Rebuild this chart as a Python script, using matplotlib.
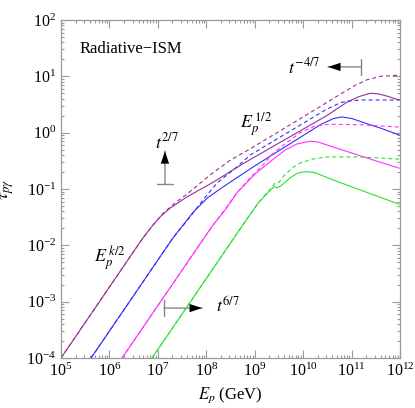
import numpy as np
import matplotlib
matplotlib.use("Agg")
import matplotlib.pyplot as plt

plt.rcParams['font.family'] = ['Liberation Serif', 'DejaVu Serif']
plt.rcParams['mathtext.fontset'] = 'stix'

# ---------------- DATA (log10 E_p [GeV], log10 tau) ----------------
# purple
loge_pur_d = [5.0, 6.69, 6.88, 7.11, 7.35, 7.60, 8.08, 8.49, 8.84, 10.0, 10.76, 11.07, 11.32, 11.59, 11.98]
logt_pur_d = [-4.0, -1.87, -1.66, -1.43, -1.25, -1.09, -0.75, -0.49, -0.32, 0.28, 0.68, 0.84, 0.94, 1.00, 1.02]
loge_pur_s = [5.0, 6.69, 6.88, 7.04, 7.25, 7.60, 8.14, 8.70, 8.90, 10.5, 10.9, 11.15, 11.38, 11.55, 11.75, 11.98]
logt_pur_s = [-4.0, -1.87, -1.66, -1.50, -1.34, -1.14, -0.88, -0.58, -0.48, 0.31, 0.54, 0.64, 0.70, 0.69, 0.645, 0.58]
# blue
loge_blu_d = [5.62, 7.31, 7.66, 7.93, 8.22, 8.63, 8.90, 10.45, 10.76, 10.9, 11.2, 11.98]
logt_blu_d = [-4.0, -1.87, -1.50, -1.195, -0.894, -0.61, -0.40, 0.40, 0.53, 0.56, 0.58, 0.58]
loge_blu_s = [5.62, 7.31, 7.73, 8.02, 8.35, 8.70, 9.0, 9.5, 10.0, 10.35, 10.62, 10.80, 11.01, 11.28, 11.6, 11.98]
logt_blu_s = [-4.0, -1.87, -1.41, -1.16, -0.96, -0.76, -0.59, -0.32, -0.05, 0.14, 0.25, 0.28, 0.25, 0.17, 0.08, -0.04]
# magenta
loge_mag_d = [6.26, 8.12, 8.39, 8.63, 8.90, 9.15, 9.36, 9.625, 9.935, 10.245, 10.55, 11.2, 11.98]
logt_mag_d = [-4.0, -1.66, -1.355, -1.07, -0.805, -0.59, -0.38, -0.20, 0.0, 0.12, 0.15, 0.14, 0.10]
loge_mag_s = [6.26, 8.12, 8.39, 8.65, 9.01, 9.36, 9.625, 9.87, 10.15, 10.31, 10.62, 11.0, 11.5, 11.98]
logt_mag_s = [-4.0, -1.66, -1.37, -1.05, -0.73, -0.485, -0.31, -0.20, -0.15, -0.166, -0.255, -0.36, -0.50, -0.63]
# green
loge_grn_d = [6.88, 8.84, 9.07, 9.25, 9.36, 9.42, 9.50, 9.605, 9.77, 9.935, 10.18, 10.49, 11.17, 11.98]
logt_grn_d = [-4.0, -1.53, -1.25, -1.07, -0.965, -0.89, -0.88, -0.76, -0.63, -0.54, -0.47, -0.43, -0.43, -0.47]
loge_grn_s = [6.88, 8.84, 9.07, 9.21, 9.32, 9.40, 9.46, 9.53, 9.60, 9.73, 9.89, 10.06, 10.245, 10.62, 11.98]
logt_grn_s = [-4.0, -1.53, -1.25, -1.12, -1.02, -0.96, -0.975, -0.95, -0.90, -0.80, -0.716, -0.69, -0.71, -0.84, -1.27]

series = [
    ('#953395', loge_pur_s, logt_pur_s, loge_pur_d, logt_pur_d),
    ('#3030ff', loge_blu_s, logt_blu_s, loge_blu_d, logt_blu_d),
    ('#ff30ff', loge_mag_s, logt_mag_s, loge_mag_d, logt_mag_d),
    ('#2ee02e', loge_grn_s, logt_grn_s, loge_grn_d, logt_grn_d),
]

# ---------------- PLOT ----------------
fig = plt.figure(figsize=(4.15, 4.08), dpi=100)
ax = fig.add_axes([0.147, 0.1225, 0.817, 0.8284])

for c, es, ts, ed, td in series:
    ax.plot(10**np.array(es), 10**np.array(ts), color=c, lw=0.8)
    ax.plot(10**np.array(ed), 10**np.array(td), color=c, lw=0.8, dashes=(3.6, 2.7))

ax.set_xscale('log')
ax.set_yscale('log')
ax.set_xlim(1e5, 1e12)
ax.set_ylim(1e-4, 1e2)

ax.tick_params(which='both', direction='in', top=True, right=True,
               color='#999999', labelsize=11.5, width=0.8)
ax.tick_params(which='major', length=5.5)
ax.tick_params(which='minor', length=2.5)
for sp in ax.spines.values():
    sp.set_color('#999999')
    sp.set_linewidth(0.9)

ax.set_xlabel(r'$E_p$ (GeV)', fontsize=12, labelpad=4)
ax.set_ylabel(r'$\tau_{p\gamma}$', fontsize=13, labelpad=7)

ax.text(0.055, 0.915, 'Radiative\u2212ISM', transform=ax.transAxes, fontsize=12,
        va='center', ha='left')

# scaling arrows
def scale_arrow(tail, tip):
    ax.annotate('', xy=tip, xytext=tail,
                arrowprops=dict(arrowstyle=']-,widthA=0.6,lengthA=0', color='#888888',
                                lw=1.0, shrinkA=0, shrinkB=0, mutation_scale=10))
    ax.annotate('', xy=tip, xytext=tail,
                arrowprops=dict(arrowstyle='-|>,head_length=0.9,head_width=0.3', color='black',
                                lw=0, shrinkA=0, shrinkB=0, mutation_scale=10))

scale_arrow((1.4e7, 0.123), (1.4e7, 0.47))
scale_arrow((1.57e11, 14.7), (3.26e10, 14.7))
scale_arrow((1.34e7, 7.7e-4), (8.15e7, 7.7e-4))

ax.text(10**6.94, 10**-0.27, r'$t^{2/7}$', fontsize=13)
ax.text(10**9.69, 10**1.06, r'$t^{-4/7}$', fontsize=13)
ax.text(10**8.2, 10**-3.2, r'$t^{6/7}$', fontsize=13)
ax.text(10**8.7, 10**0.083, r'$E_p^{\,1/2}$', fontsize=13)
ax.text(10**5.68, 10**-2.31, r'$E_p^{\,k/2}$', fontsize=13)

fig.savefig('out.png', dpi=100)
